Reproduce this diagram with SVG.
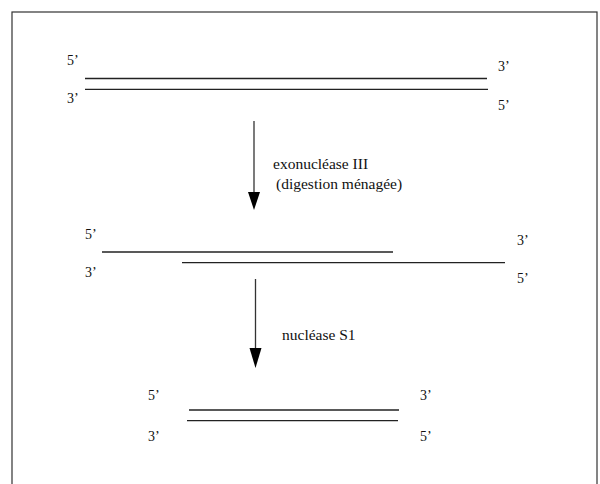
<svg xmlns="http://www.w3.org/2000/svg" width="600" height="484" viewBox="0 0 600 484">
<style>
text{font-family:'Liberation Serif','Times New Roman',Times,serif;fill:#111}
.t{font-size:14px}
.p{font-size:15.5px}
.s{stroke:#222;stroke-width:1.3;fill:none}
.a{stroke:#333;stroke-width:1.3;fill:none}
</style>
<rect x="12" y="12" width="585" height="480" fill="#fff" stroke="#333" stroke-width="1.2"/>
<g id="duplex1">
<line class="s" x1="85" y1="78.5" x2="487" y2="78.5"/>
<line class="s" x1="85" y1="89.3" x2="488" y2="89.3"/>
<text class="t" x="67" y="65">5’</text>
<text class="t" x="67" y="103">3’</text>
<text class="t" x="498" y="71">3’</text>
<text class="t" x="498" y="110">5’</text>
</g>
<g id="duplex2">
<line class="s" x1="102" y1="252" x2="393" y2="252"/>
<line class="s" x1="182" y1="262.7" x2="505" y2="262.7"/>
<text class="t" x="85" y="239">5’</text>
<text class="t" x="85" y="277">3’</text>
<text class="t" x="517" y="245">3’</text>
<text class="t" x="517" y="283">5’</text>
</g>
<g id="duplex3">
<line class="s" x1="189" y1="410" x2="399" y2="410"/>
<line class="s" x1="187" y1="420.7" x2="398" y2="420.7"/>
<text class="t" x="148" y="400">5’</text>
<text class="t" x="148" y="441">3’</text>
<text class="t" x="420" y="400">3’</text>
<text class="t" x="420" y="441">5’</text>
</g>
<g id="connectors">
<line class="a" x1="254" y1="121" x2="254" y2="194"/>
<path d="M248,192 L260,192 L254,210 Z" fill="#000"/>
<line class="a" x1="255.5" y1="279" x2="255.5" y2="350"/>
<path d="M249.5,348 L261.5,348 L255.5,368 Z" fill="#000"/>
</g>
<g id="label1">
<text class="p" x="273" y="169">exonucléase III</text>
<text class="p" x="276" y="189">(digestion ménagée)</text>
</g>
<g id="label2">
<text class="p" x="282" y="340">nucléase S1</text>
</g>
</svg>
